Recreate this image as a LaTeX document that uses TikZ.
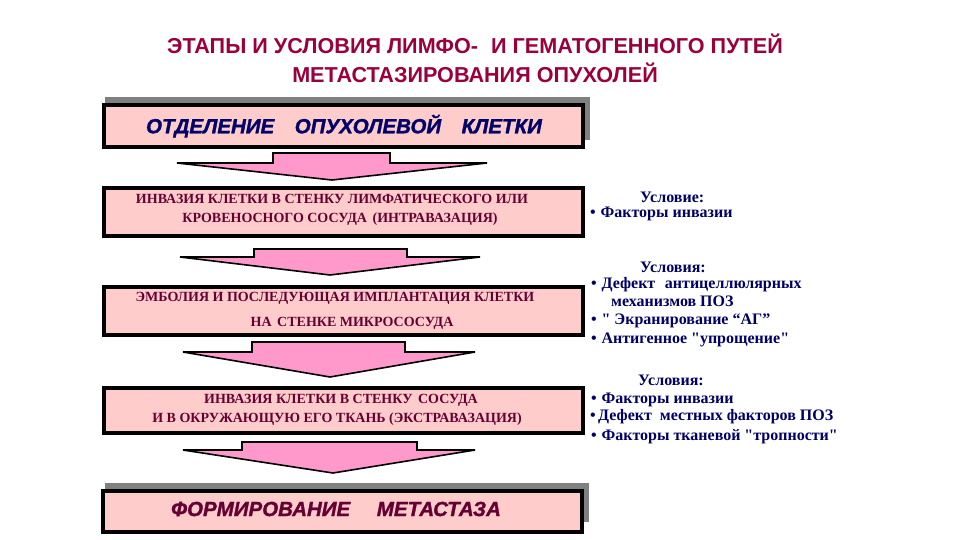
\documentclass[tikz,border=0pt]{standalone}
\usepackage{fontspec}
\usepackage{graphicx}
\setmainfont{Liberation Serif}
\setsansfont{Liberation Sans}
\newfontfamily\heavyfont{Liberation Sans}[BoldItalicFeatures={FakeBold=1.5}]
\definecolor{boxpink}{HTML}{FFCCCC}
\definecolor{arrowpink}{HTML}{FF99CC}
\definecolor{titlered}{HTML}{99003D}
\definecolor{navy}{HTML}{000066}
\definecolor{maroon}{HTML}{660033}
\definecolor{shadowgray}{HTML}{808080}
\tikzset{
  stagebox/.style={draw=black, line width=4pt, fill=boxpink, inner sep=0pt, anchor=north west},
  shadowbox/.style={fill=shadowgray},
  blockarrow/.style={draw=black, line width=1.6pt, fill=arrowpink, line join=miter},
  titletext/.style={font=\sffamily\bfseries\fontsize{21.6}{24}\selectfont, text=titlered, inner sep=0pt},
  bigtext/.style={font=\heavyfont\bfseries\itshape\fontsize{20.5}{24}\selectfont, inner sep=0pt},
  midtext/.style={font=\rmfamily\bfseries\fontsize{14}{16}\selectfont, text=maroon, inner sep=0pt, text height=10pt, text depth=2pt},
  condtext/.style={font=\rmfamily\bfseries\fontsize{16}{18}\selectfont, text=navy, inner sep=0pt, anchor=west, text height=11pt, text depth=3pt},
}
\begin{document}
\begin{tikzpicture}[x=1pt,y=-1pt]
\useasboundingbox (0,0) rectangle (960,540);
\fill[white] (0,0) rectangle (960,540);

% title
\node[titletext] (t1) at (475,44) {ЭТАПЫ И УСЛОВИЯ ЛИМФО-\hspace{0.6em}И ГЕМАТОГЕННОГО ПУТЕЙ};
\node[titletext] (t2) at (475,73) {МЕТАСТАЗИРОВАНИЯ ОПУХОЛЕЙ};

% shadows
\fill[shadowgray] (105,97) rectangle (590,140);
\fill[shadowgray] (105,483) rectangle (589,522);

% boxes
\node[stagebox, minimum width=479pt, minimum height=42pt] (b1) at (102,103) {};
\node[stagebox, minimum width=479pt, minimum height=48pt] (b2) at (102,186) {};
\node[stagebox, minimum width=479pt, minimum height=48pt] (b3) at (102,285) {};
\node[stagebox, minimum width=479pt, minimum height=45pt] (b4) at (102,386) {};
\node[stagebox, minimum width=479pt, minimum height=41pt] (b5) at (101,489) {};

% block arrows
\draw[blockarrow] (273,153) -- (390,153) -- (390,163) -- (487,163) -- (332,180) -- (177,163) -- (273,163) -- cycle;
\draw[blockarrow] (254,249) -- (407,249) -- (407,257) -- (480,257) -- (330,275) -- (180,257) -- (254,257) -- cycle;
\draw[blockarrow] (252,342) -- (405,342) -- (405,352) -- (475,352) -- (330,377) -- (183,352) -- (252,352) -- cycle;
\draw[blockarrow] (242,442) -- (417,442) -- (417,450) -- (475,450) -- (333,473) -- (183,450) -- (242,450) -- cycle;

% box texts
\node[bigtext, text=navy] (s1) at (344,126) {ОТДЕЛЕНИЕ\hspace{1.0em}ОПУХОЛЕВОЙ\hspace{1.0em}КЛЕТКИ};
\node[midtext] (s2a) at (332,199) {ИНВАЗИЯ КЛЕТКИ В СТЕНКУ ЛИМФАТИЧЕСКОГО ИЛИ};
\node[midtext] (s2b) at (340,218) {КРОВЕНОСНОГО СОСУДА\hspace{0.4em}(ИНТРАВАЗАЦИЯ)};
\node[midtext] (s3a) at (335,297) {ЭМБОЛИЯ И ПОСЛЕДУЮЩАЯ ИМПЛАНТАЦИЯ КЛЕТКИ};
\node[midtext] (s3b) at (352,322) {НА\hspace{0.4em}СТЕНКЕ МИКРОСОСУДА};
\node[midtext] (s4a) at (341,399) {ИНВАЗИЯ КЛЕТКИ В СТЕНКУ\hspace{0.4em}СОСУДА};
\node[midtext] (s4b) at (337,418) {И В ОКРУЖАЮЩУЮ ЕГО ТКАНЬ (ЭКСТРАВАЗАЦИЯ)};
\node[bigtext, text=maroon] (s5) at (336,509) {ФОРМИРОВАНИЕ\hspace{1.3em}МЕТАСТАЗА};

% conditions
\node[condtext] (c1h) at (640,198) {Условие:};
\node[condtext] (c1a) at (590,213) {•\hspace{0.3em}Факторы инвазии};

\node[condtext] (c2h) at (640,268) {Условия:};
\node[condtext] (c2a) at (591,284) {•\hspace{0.3em}Дефект\hspace{0.6em}антицеллюлярных};
\node[condtext] (c2b) at (611,302) {механизмов ПОЗ};
\node[condtext] (c2c) at (591,320) {•\hspace{0.3em}\textquotedbl{} Экранирование “АГ”};
\node[condtext] (c2d) at (591,339) {•\hspace{0.3em}Антигенное \textquotedbl{}упрощение\textquotedbl{}};

\node[condtext] (c3h) at (638,381) {Условия:};
\node[condtext] (c3a) at (591,399) {•\hspace{0.3em}Факторы инвазии};
\node[condtext] (c3b) at (590,416) {•\hspace{0.15em}Дефект\hspace{0.5em}местных факторов ПОЗ};
\node[condtext] (c3c) at (591,436) {•\hspace{0.3em}Факторы тканевой \textquotedbl{}тропности\textquotedbl{}};
\end{tikzpicture}
\end{document}
